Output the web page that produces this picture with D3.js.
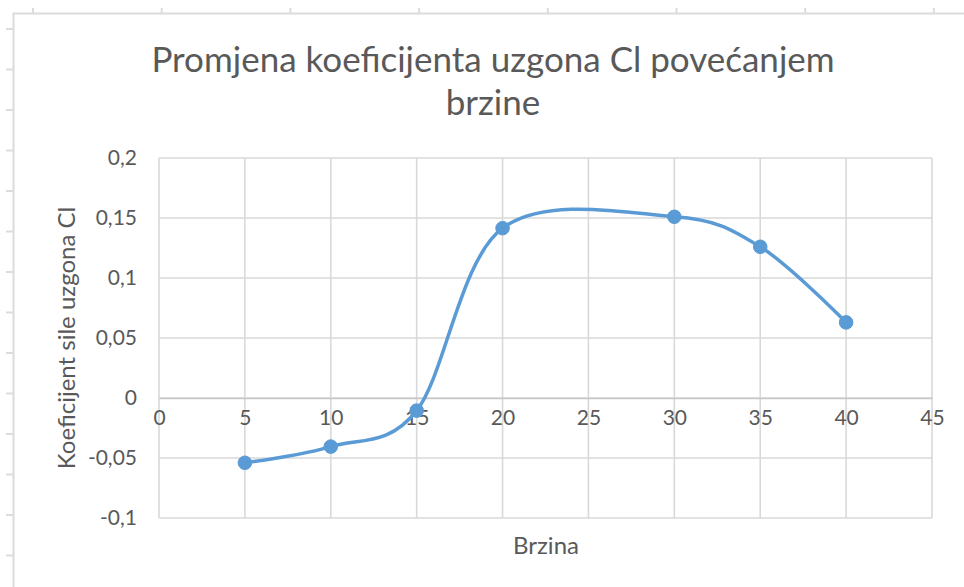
<!DOCTYPE html>
<html>
<head>
<meta charset="utf-8">
<script src="https://cdn.jsdelivr.net/npm/d3@7"></script>
<style>
  html, body { margin: 0; padding: 0; background: #ffffff; }
  svg { display: block; }
  text { font-family: Lato, "Open Sans", sans-serif; fill: #595959; }
</style>
</head>
<body>
<svg id="chart" width="964" height="587"></svg>
<script>
// Lift coefficient Cl measured at each speed
const speeds = [5, 10, 15, 20, 30, 35, 40];
const liftCoef = [-0.054, -0.0405, -0.0105, 0.1415, 0.151, 0.126, 0.063];

const xTicks = [0, 5, 10, 15, 20, 25, 30, 35, 40, 45];
const yTicks = [-0.1, -0.05, 0, 0.05, 0.1, 0.15, 0.2];

const chartTitle = ["Promjena koeficijenta uzgona Cl povećanjem", "brzine"];
const xTitle = "Brzina";
const yTitle = "Koeficijent sile uzgona Cl";

const W = 964, H = 587;
const plot = { left: 159, right: 932, top: 158, bottom: 518 };
const blue = "#5b9bd5";
const grid = "#d9d9d9";

const svg = d3.select("#chart");

// spreadsheet frame behind the chart object
svg.append("rect").attr("width", W).attr("height", H).attr("fill", "#ffffff");
const frame = svg.append("g").attr("stroke", "#dcdcdc").attr("stroke-width", 2).attr("fill", "none");
frame.append("path").attr("d", `M13.5,${H} V13.5 H${W}`);
d3.range(29, H, 40.5).forEach(yy => {
  frame.append("line").attr("x1", 6).attr("x2", 13).attr("y1", yy).attr("y2", yy);
});
d3.range(33, W, 128.7).forEach(xx => {
  frame.append("line").attr("x1", xx).attr("x2", xx).attr("y1", 8).attr("y2", 13);
});

const x = d3.scaleLinear().domain([0, 45]).range([plot.left, plot.right]);
const y = d3.scaleLinear().domain([-0.1, 0.2]).range([plot.bottom, plot.top]);

const locale = d3.formatLocale({ decimal: ",", thousands: ".", grouping: [3], currency: ["", ""], minus: "-" });
const fmt = locale.format(".2~f");

// gridlines
const gridG = svg.append("g").attr("stroke", grid).attr("stroke-width", 1.6);
gridG.selectAll("line.h").data(yTicks).join("line")
  .attr("x1", plot.left).attr("x2", plot.right)
  .attr("y1", d => y(d)).attr("y2", d => y(d));
gridG.selectAll("line.v").data(xTicks).join("line")
  .attr("x1", d => x(d)).attr("x2", d => x(d))
  .attr("y1", plot.top).attr("y2", plot.bottom);

// horizontal axis crossing at zero
const xAxis = d3.axisBottom(x).tickValues(xTicks).tickSize(0).tickPadding(12).tickFormat(d => d);
const xg = svg.append("g").attr("transform", `translate(0,${y(0)})`).call(xAxis);
xg.select(".domain").attr("stroke", "#c8c8c8").attr("stroke-width", 1.6);
xg.selectAll("text").attr("font-size", 21).attr("fill", "#595959")
  .attr("font-family", "Lato, sans-serif");

const yAxis = d3.axisLeft(y).tickValues(yTicks).tickSize(0).tickPadding(22).tickFormat(fmt);
const yg = svg.append("g").attr("transform", `translate(${plot.left},0)`).call(yAxis);
yg.select(".domain").remove();
yg.selectAll("text").attr("font-size", 21).attr("fill", "#595959")
  .attr("font-family", "Lato, sans-serif");

// smoothed series line and markers
const pts = speeds.map((s, i) => [s, liftCoef[i]]);
const line = d3.line().x(d => x(d[0])).y(d => y(d[1])).curve(d3.curveCardinal.tension(0));
svg.append("path").datum(pts).attr("d", line)
  .attr("fill", "none").attr("stroke", blue).attr("stroke-width", 3.5)
  .attr("stroke-linecap", "round").attr("stroke-linejoin", "round");
svg.append("g").selectAll("circle").data(pts).join("circle")
  .attr("cx", d => x(d[0])).attr("cy", d => y(d[1])).attr("r", 6.8)
  .attr("fill", blue).attr("stroke", blue).attr("stroke-width", 1);

// titles
const titleX = 493;
const t = svg.append("text").attr("text-anchor", "middle").attr("font-size", 35);
t.append("tspan").attr("x", titleX).attr("y", 72).text(chartTitle[0]);
t.append("tspan").attr("x", titleX).attr("y", 115).text(chartTitle[1]);

svg.append("text").attr("x", 546).attr("y", 554).attr("text-anchor", "middle")
  .attr("font-size", 24).text(xTitle);

svg.append("text")
  .attr("transform", `translate(75,${(plot.top + plot.bottom) / 2}) rotate(-90)`)
  .attr("text-anchor", "middle").attr("font-size", 24).text(yTitle);
</script>
</body>
</html>
